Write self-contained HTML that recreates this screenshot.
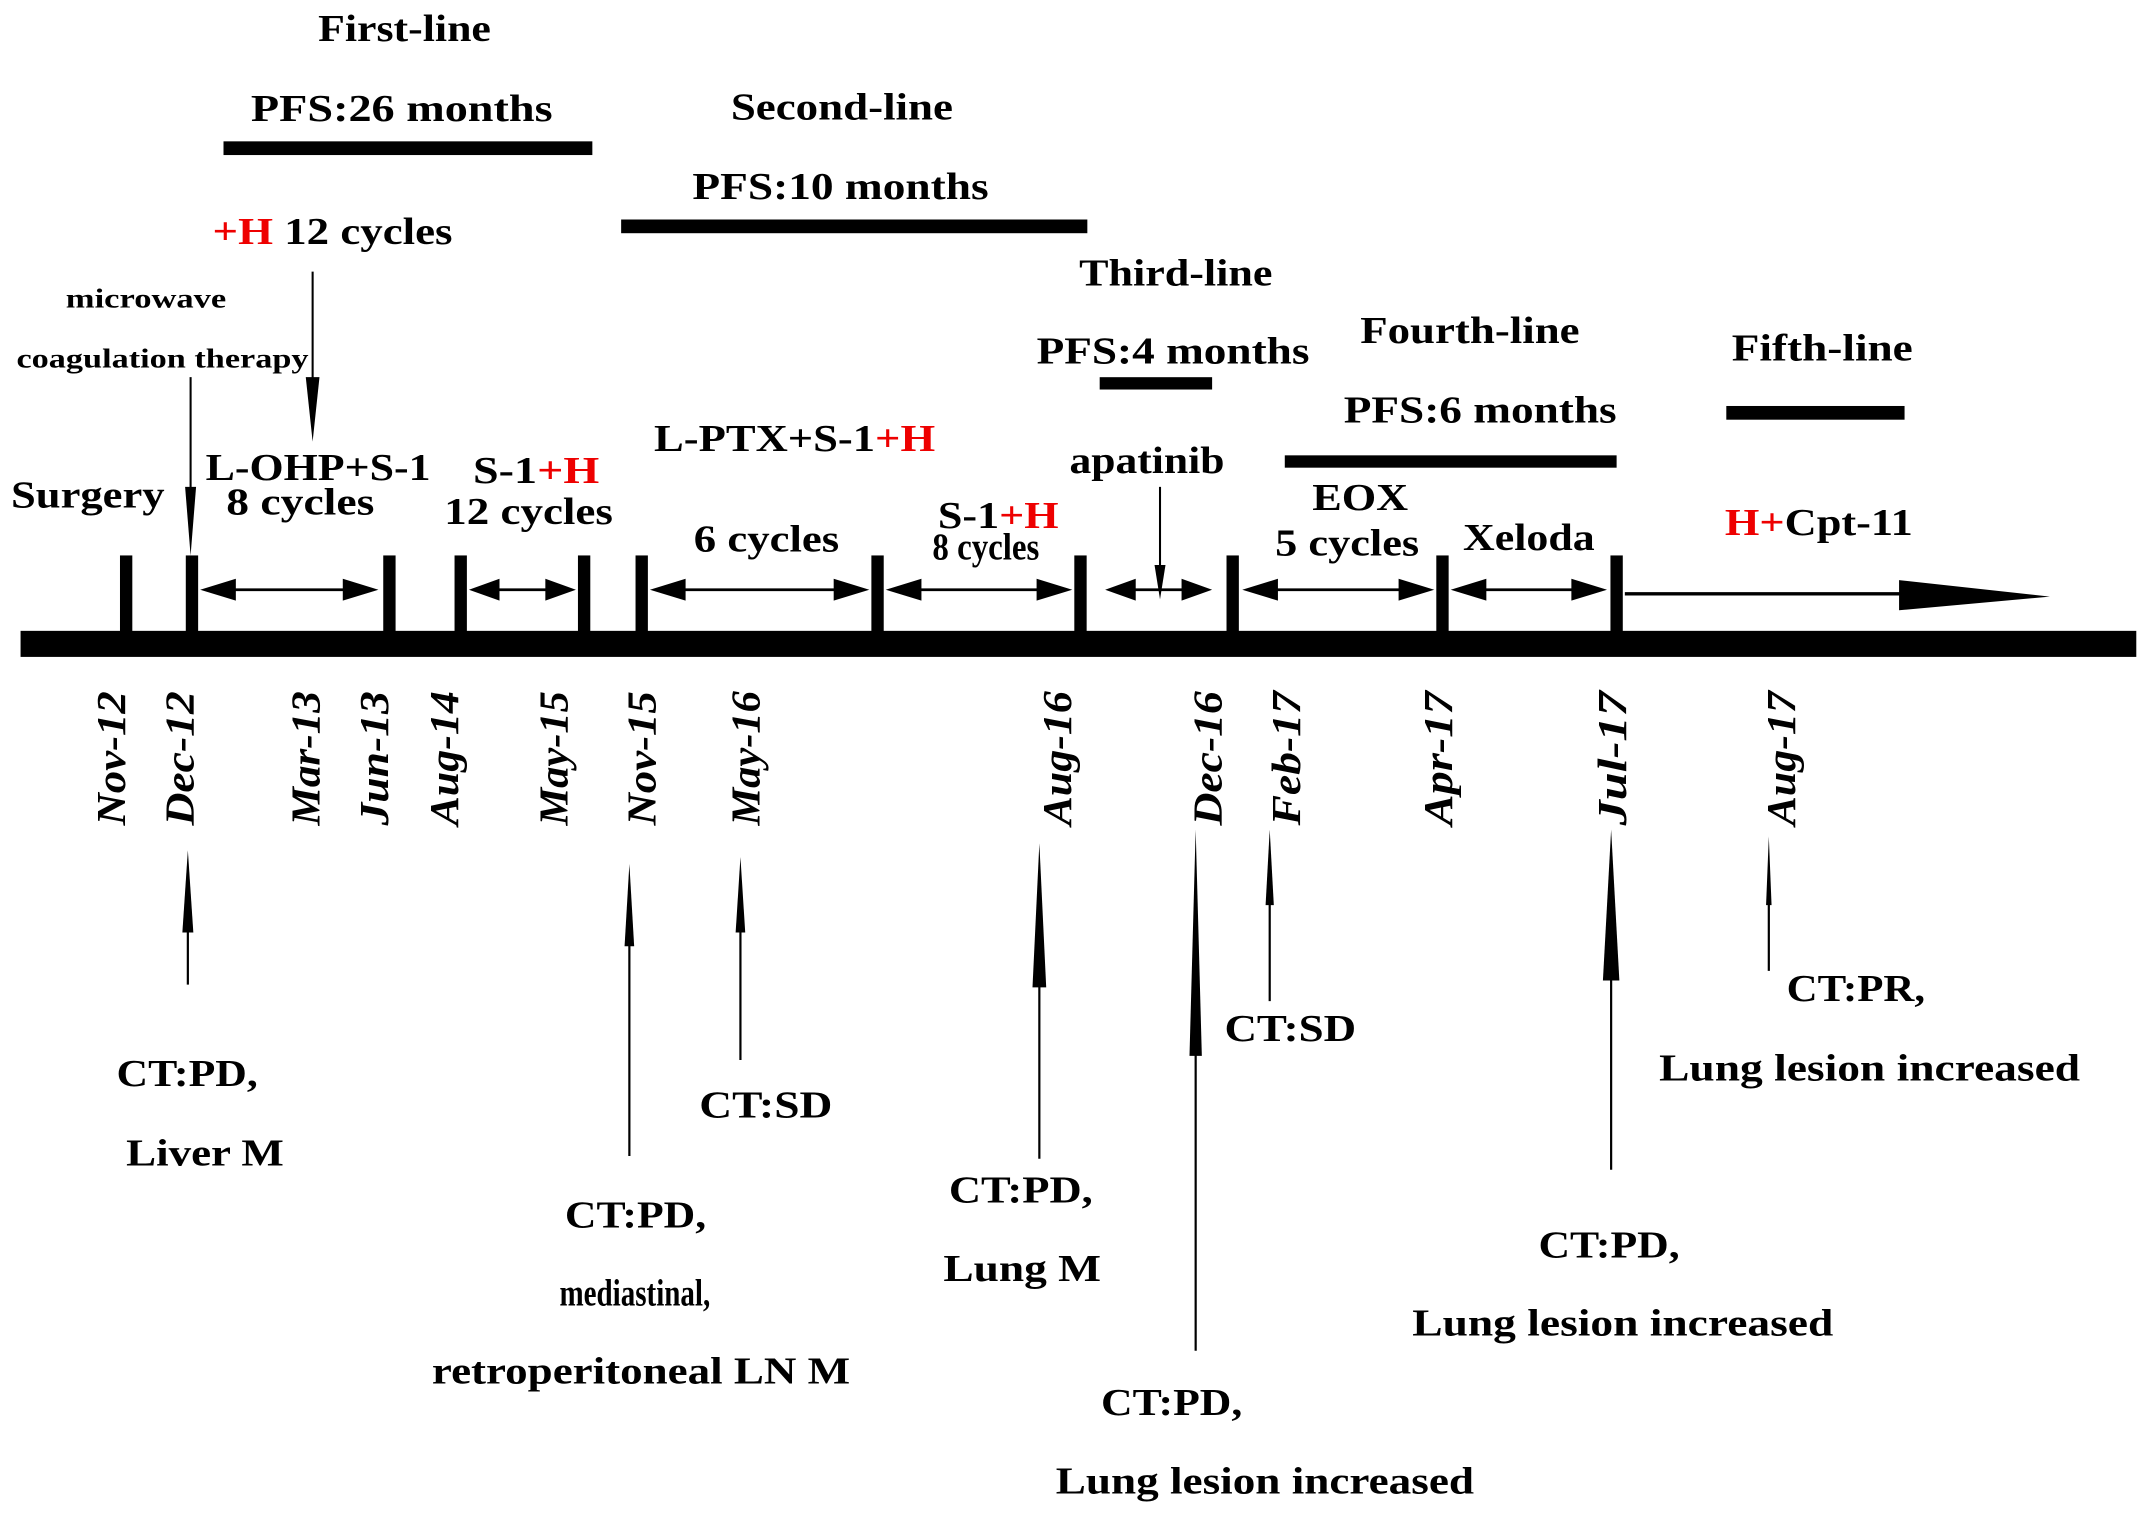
<!DOCTYPE html>
<html><head><meta charset="utf-8"><style>
html,body{margin:0;padding:0;background:#fff}
svg{display:block}
text{font-family:"Liberation Serif","Times New Roman",serif;font-weight:bold;fill:#000}
.r{fill:#e00}
</style></head><body>
<svg width="2150" height="1514" viewBox="0 0 1568 1104" xmlns="http://www.w3.org/2000/svg">
<g font-size="28">
<text x="232" y="30" textLength="126" lengthAdjust="spacingAndGlyphs">First-line</text>
<text x="183" y="88" textLength="220" lengthAdjust="spacingAndGlyphs">PFS:26 months</text>
<rect x="163" y="103" width="269" height="10"/>
<text x="155" y="178" textLength="175" lengthAdjust="spacingAndGlyphs"><tspan class="r">+H</tspan> 12 cycles</text>
<text x="533" y="87" textLength="162" lengthAdjust="spacingAndGlyphs">Second-line</text>
<text x="505" y="145" textLength="216" lengthAdjust="spacingAndGlyphs">PFS:10 months</text>
<rect x="453" y="160" width="340" height="10"/>
<text x="787" y="208" textLength="141" lengthAdjust="spacingAndGlyphs">Third-line</text>
<text x="756" y="265" textLength="199" lengthAdjust="spacingAndGlyphs">PFS:4 months</text>
<rect x="802" y="275" width="82" height="9"/>
<text x="992" y="250" textLength="160" lengthAdjust="spacingAndGlyphs">Fourth-line</text>
<text x="980" y="308" textLength="199" lengthAdjust="spacingAndGlyphs">PFS:6 months</text>
<rect x="937" y="332" width="242" height="9"/>
<text x="1263" y="263" textLength="132" lengthAdjust="spacingAndGlyphs">Fifth-line</text>
<rect x="1259" y="296" width="130" height="10"/>
</g>
<g>
<text x="48" y="224" font-size="20" textLength="117" lengthAdjust="spacingAndGlyphs">microwave</text>
<text x="12" y="268" font-size="20" textLength="213" lengthAdjust="spacingAndGlyphs">coagulation therapy</text>
<line x1="139" y1="275" x2="139" y2="360" stroke="#000" stroke-width="1.5"/>
<polygon points="135,355 143,355 139,405"/>
<line x1="228" y1="198" x2="228" y2="280" stroke="#000" stroke-width="1.5"/>
<polygon points="223,275 233,275 228,322"/>
<g font-size="28">
<text x="8" y="370" textLength="112" lengthAdjust="spacingAndGlyphs">Surgery</text>
<text x="150" y="350" textLength="164" lengthAdjust="spacingAndGlyphs">L-OHP+S-1</text>
<text x="165" y="375" textLength="108" lengthAdjust="spacingAndGlyphs">8 cycles</text>
<text x="345" y="352" textLength="92" lengthAdjust="spacingAndGlyphs">S-1<tspan class="r">+H</tspan></text>
<text x="324" y="382" textLength="123" lengthAdjust="spacingAndGlyphs">12 cycles</text>
<text x="477" y="329" textLength="205" lengthAdjust="spacingAndGlyphs">L-PTX+S-1<tspan class="r">+H</tspan></text>
<text x="506" y="402" textLength="106" lengthAdjust="spacingAndGlyphs">6 cycles</text>
<text x="684" y="385" textLength="88" lengthAdjust="spacingAndGlyphs">S-1<tspan class="r">+H</tspan></text>
<text x="680" y="408" textLength="78" lengthAdjust="spacingAndGlyphs">8 cycles</text>
<text x="780" y="345" textLength="113" lengthAdjust="spacingAndGlyphs">apatinib</text>
<text x="957" y="372" textLength="70" lengthAdjust="spacingAndGlyphs">EOX</text>
<text x="930" y="405" textLength="105" lengthAdjust="spacingAndGlyphs">5 cycles</text>
<text x="1067" y="401" textLength="96" lengthAdjust="spacingAndGlyphs">Xeloda</text>
<text x="1258" y="390" textLength="137" lengthAdjust="spacingAndGlyphs"><tspan class="r">H+</tspan>Cpt-11</text>
</g>
<line x1="846" y1="355" x2="846" y2="415" stroke="#000" stroke-width="1.5"/>
<polygon points="842,412 850,412 846,437"/>
</g>
<rect x="15" y="460" width="1543" height="19"/>
<g id="ticks"></g>
<g id="spans"></g>
<line x1="1185" y1="433" x2="1400" y2="433" stroke="#000" stroke-width="2.5"/>
<polygon points="1385,423 1495,435 1385,445"/>
<g id="dates" font-size="30" font-style="italic"></g>
<g id="evals"></g>
<g font-size="28">
<text x="85" y="792" textLength="103" lengthAdjust="spacingAndGlyphs">CT:PD,</text>
<text x="92" y="850" textLength="115" lengthAdjust="spacingAndGlyphs">Liver M</text>
<text x="510" y="815" textLength="97" lengthAdjust="spacingAndGlyphs">CT:SD</text>
<text x="412" y="895" textLength="103" lengthAdjust="spacingAndGlyphs">CT:PD,</text>
<text x="408" y="952" textLength="110" lengthAdjust="spacingAndGlyphs">mediastinal,</text>
<text x="315" y="1009" textLength="305" lengthAdjust="spacingAndGlyphs">retroperitoneal LN M</text>
<text x="692" y="877" textLength="105" lengthAdjust="spacingAndGlyphs">CT:PD,</text>
<text x="688" y="934" textLength="115" lengthAdjust="spacingAndGlyphs">Lung M</text>
<text x="803" y="1032" textLength="103" lengthAdjust="spacingAndGlyphs">CT:PD,</text>
<text x="770" y="1089" textLength="305" lengthAdjust="spacingAndGlyphs">Lung lesion increased</text>
<text x="893" y="759" textLength="96" lengthAdjust="spacingAndGlyphs">CT:SD</text>
<text x="1122" y="917" textLength="103" lengthAdjust="spacingAndGlyphs">CT:PD,</text>
<text x="1030" y="974" textLength="307" lengthAdjust="spacingAndGlyphs">Lung lesion increased</text>
<text x="1303" y="730" textLength="101" lengthAdjust="spacingAndGlyphs">CT:PR,</text>
<text x="1210" y="788" textLength="307" lengthAdjust="spacingAndGlyphs">Lung lesion increased</text>
</g>
</svg>
<script>
const NS="http://www.w3.org/2000/svg";
const tickX=[92,140,284,336,426,468,640,788,899,1052,1179];
const spanStart=[146,342,474,646,806,906,1058];
const spanEnd=[276,420,634,782,884,1046,1172];
const dateLabels=["Nov-12","Dec-12","Mar-13","Jun-13","Aug-14","May-15","Nov-15","May-16","Aug-16","Dec-16","Feb-17","Apr-17","Jul-17","Aug-17"];
const dateX=[80,130,222,272,323,403,467,543,770,880,937,1048,1175,1298];
const evalX=[137,459,540,758,872,926,1175,1290];
const evalBottom=[718,843,773,845,985,730,853,708];
const evalTop=[620,630,625,615,605,605,605,610];
const evalHead=[60,60,55,105,165,55,110,50];
const evalHalfW=[4,3.5,3.5,5,4.5,3,6,2];
function mk(tag,attrs,parent){const e=document.createElementNS(NS,tag);for(const k in attrs)e.setAttribute(k,attrs[k]);parent.appendChild(e);return e;}
const gT=document.getElementById('ticks');
tickX.forEach((x,i)=>{const r=mk('rect',{x:x-4.5,y:405,width:9,height:57},gT);

});
const gS=document.getElementById('spans');
spanStart.forEach((a,i)=>{const b=spanEnd[i];const y=430;const g=mk('g',{},gS);


mk('line',{x1:a+10,y1:y,x2:b-10,y2:y,stroke:'#000','stroke-width':2},g);
const h=Math.min(26,(b-a)/3.5);
mk('polygon',{points:`${a},${y} ${a+h},${y-8} ${a+h},${y+8}`},g);
mk('polygon',{points:`${b},${y} ${b-h},${y-8} ${b-h},${y+8}`},g);});
const gD=document.getElementById('dates');
dateLabels.forEach((s,i)=>{const t=mk('text',{transform:`translate(${dateX[i]+11},602) rotate(-90)`,textLength:98,lengthAdjust:'spacingAndGlyphs'},gD);
t.textContent=s;

});
const gE=document.getElementById('evals');
evalX.forEach((x,i)=>{const g=mk('g',{},gE);


const top=evalTop[i],hb=top+evalHead[i],w=evalHalfW[i];
mk('line',{x1:x,y1:evalBottom[i],x2:x,y2:hb-2,stroke:'#000','stroke-width':1.6},g);
mk('polygon',{points:`${x},${top} ${x-w},${hb} ${x+w},${hb}`},g);});
</script>
</body></html>
